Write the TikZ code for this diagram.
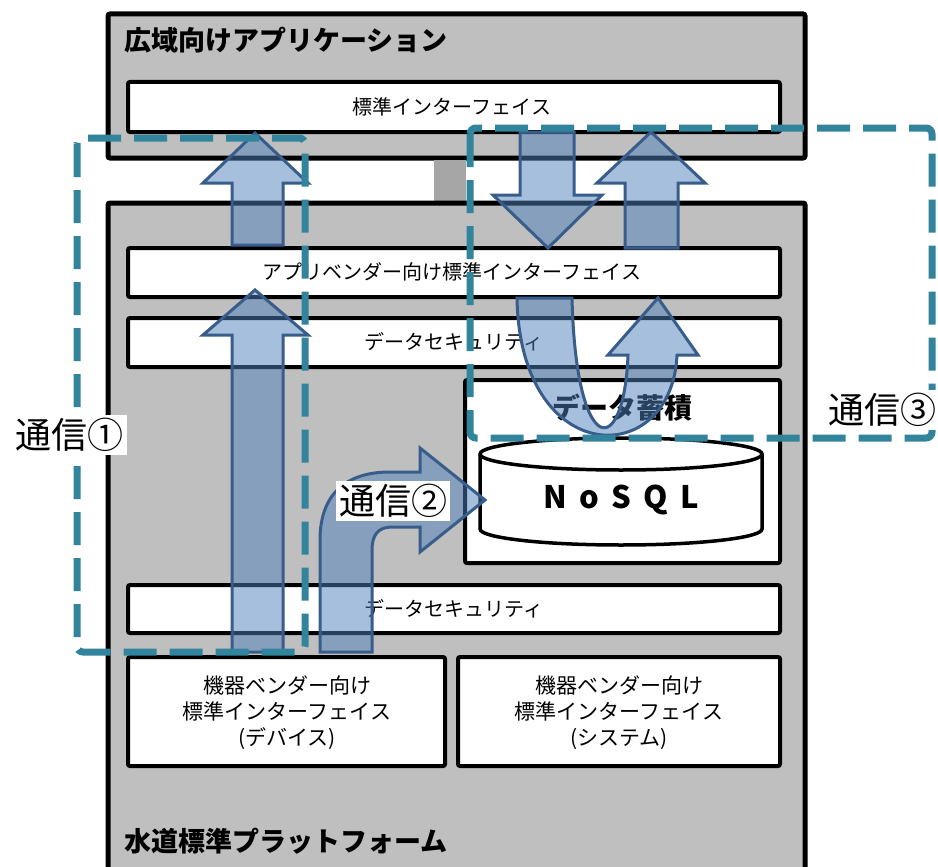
\documentclass[tikz,border=0pt]{standalone}
\usepackage{fontspec}
\setmainfont{Noto Sans CJK JP}
\definecolor{panelgray}{HTML}{BFBFBF}
\definecolor{linkgray}{HTML}{A6A6A6}
\definecolor{commteal}{HTML}{31849B}
\definecolor{flowfill}{HTML}{4F81BD}
\definecolor{flowline}{HTML}{385D8A}

\begin{document}
\begin{tikzpicture}[x=1pt,y=-1pt,
  platebox/.style={draw=black,line width=5pt,fill=panelgray,rounded corners=2pt},
  layerbox/.style={draw=black,line width=4pt,fill=white,rounded corners=2pt},
  flowarrow/.style={draw=flowline,line width=3pt,fill=flowfill,fill opacity=0.5},
  commzone/.style={draw=commteal,line width=7pt,dash pattern=on 33pt off 13pt,rounded corners=6pt},
  commlabel/.style={fill=white,inner sep=3pt,font=\fontsize{36}{42}\selectfont},
  ttl/.style={font=\fontsize{27}{32}\selectfont\bfseries,anchor=west,inner sep=0pt},
  lbl/.style={font=\fontsize{20}{24}\selectfont,inner sep=0pt},
  devlbl/.style={font=\fontsize{21}{26}\selectfont,inner sep=0pt,align=center}]
%
% page
\path[use as bounding box,fill=white] (0,0) rectangle (938,867);

% Wide-area application
\draw[platebox] (108,14) rectangle (805,158)
node[ttl] at (122,40) (apptitle) {広域向けアプリケーション};
\draw[layerbox] (128,82) rectangle (780,132)
node[lbl] at (452,107) (stdif) {標準インターフェイス};
% link
\fill[linkgray] (434,160) rectangle (466,203);

% Water platform
\draw[platebox] (108,203) rectangle (805,880)
node[ttl] at (122,841) (pftitle) {水道標準プラットフォーム};
\draw[layerbox] (128,248) rectangle (780,297)
node[lbl] at (452,272) (vendorif) {アプリベンダー向け標準インターフェイス};
\draw[layerbox] (128,318) rectangle (780,367)
node[lbl] at (454,342) (secup) {データセキュリティ};
% Data store
\draw[layerbox] (465,380) rectangle (780,563)
node[font=\fontsize{28}{32}\selectfont\bfseries] at (622,408) (store) {データ蓄積};
\draw[fill=white,line width=3.5pt] (480,454) -- (480,529)
arc[start angle=180,end angle=360,x radius=141pt,y radius=16pt] -- (762,454)
arc[start angle=0,end angle=180,x radius=141pt,y radius=16pt] -- cycle;
\draw[line width=3.5pt] (480,454) arc[start angle=180,end angle=360,x radius=141pt,y radius=16pt];
\node[font=\fontsize{31}{36}\selectfont\bfseries] at (621,500) (nosql)
{N\hspace{0.4em}o\hspace{0.4em}S\hspace{0.4em}Q\hspace{0.4em}L};
\draw[layerbox] (128,585) rectangle (780,633)
node[lbl] at (454,609) (seclow) {データセキュリティ};
% Device interfaces
\draw[layerbox] (128,657) rectangle (445,766)
node[devlbl] at (287,713) (devif) {機器ベンダー向け\\標準インターフェイス\\(デバイス)};
\draw[layerbox] (458,657) rectangle (780,766)
node[devlbl] at (619,713) (sysif) {機器ベンダー向け\\標準インターフェイス\\(システム)};

% Flows
\draw[flowarrow] (232,245) -- (232,183) -- (203,183) -- (255,133) -- (308,183)
-- (283,183) -- (283,245) -- cycle;
\draw[flowarrow] (232,652) -- (232,335) -- (203,335) -- (255,290) -- (308,335)
-- (283,335) -- (283,652) -- cycle;
\draw[flowarrow] (320,652) -- (320,540) .. controls (320,495) and (345,472) .. (390,472)
-- (420,472) -- (420,448) -- (485,500) -- (420,552) -- (420,527) -- (392,527)
.. controls (378,527) and (372,535) .. (372,550) -- (372,652) -- cycle;
\draw[flowarrow] (520,132) -- (574,132) -- (574,195) -- (602,195) -- (548,248)
-- (493,195) -- (520,195) -- cycle;
\draw[flowarrow] (625,248) -- (625,183) -- (597,183) -- (651,132) -- (705,183)
-- (678,183) -- (678,248) -- cycle;
\draw[flowarrow] (517,298) .. controls (520,470) and (672,470) .. (677,355)
-- (698,355) -- (658,298) -- (608,355) -- (628,355)
.. controls (624,460) and (576,460) .. (572,298) -- cycle;

% Communication zones
\draw[commzone] (77,138) rectangle (305,652);
\draw[commzone] (470,128) rectangle (932,438);
\node[commlabel] at (70,435) (comm1) {通信①};
\node[commlabel] at (393,501) (comm2) {通信②};
\node[commlabel] at (882,410) (comm3) {通信③};
\end{tikzpicture}
\end{document}
